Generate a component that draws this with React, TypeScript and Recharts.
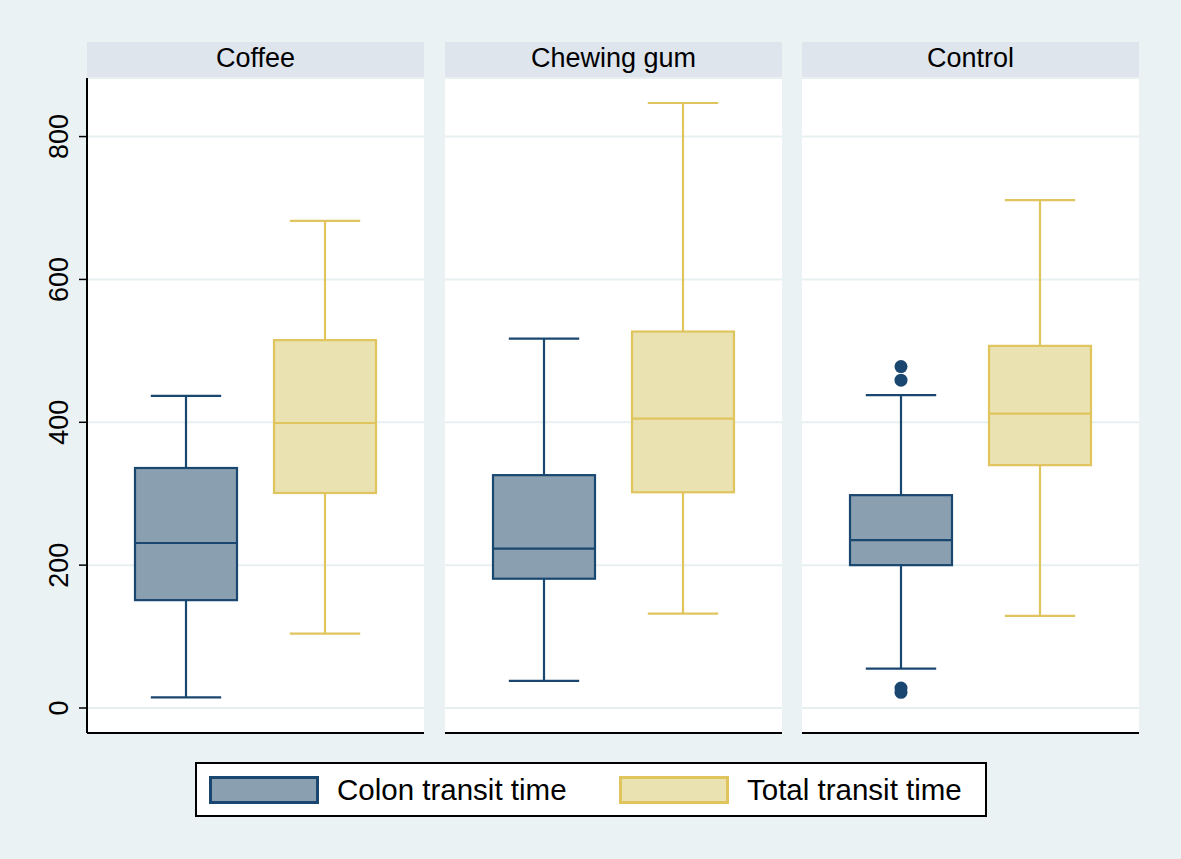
import React from 'react';
import { ComposedChart, Bar, XAxis, YAxis, CartesianGrid } from 'recharts';

const categories = ['Coffee', 'Chewing gum', 'Control'];
const colonMin = [15, 38, 55];
const colonQ1 = [151, 181, 200];
const colonMed = [231, 223, 235];
const colonQ3 = [336, 326, 298];
const colonMax = [437, 517, 438];
const colonOutliers: number[][] = [[], [], [478, 459, 28, 22]];
const totalMin = [104, 132, 129];
const totalQ1 = [301, 302, 340];
const totalMed = [399, 405, 412];
const totalQ3 = [515, 527, 507];
const totalMax = [682, 847, 711];
const totalOutliers: number[][] = [[], [], []];
const yTicks = [0, 200, 400, 600, 800];
const seriesNames = ['Colon transit time', 'Total transit time'];

const BG = '#EAF2F3';
const STRIP = '#DEE5ED';
const COLON_FILL = '#8AA0B0';
const COLON_STROKE = '#1A476F';
const TOTAL_FILL = '#EAE2B0';
const TOTAL_STROKE = '#E0C45E';
const FONT = '"Liberation Sans", Arial, Helvetica, sans-serif';

const rows = categories.map((c, i) => ({
  name: c,
  colon: { min: colonMin[i], q1: colonQ1[i], med: colonMed[i], q3: colonQ3[i], max: colonMax[i], out: colonOutliers[i] },
  total: { min: totalMin[i], q1: totalQ1[i], med: totalMed[i], q3: totalQ3[i], max: totalMax[i], out: totalOutliers[i] },
}));

const makeBoxShape = (key: 'colon' | 'total', fill: string, stroke: string) => (props: any) => {
  const { x, y, width, height, payload } = props;
  const s = payload[key];
  const py = (v: number) => y + (height * (s.max - v)) / (s.max - s.min);
  const cx = x + width / 2;
  const capHalf = width * 0.345;
  const sw = 2.2;
  return (
    <g>
      <line x1={cx} x2={cx} y1={py(s.max)} y2={py(s.q3)} stroke={stroke} strokeWidth={sw} />
      <line x1={cx} x2={cx} y1={py(s.q1)} y2={py(s.min)} stroke={stroke} strokeWidth={sw} />
      <line x1={cx - capHalf} x2={cx + capHalf} y1={py(s.max)} y2={py(s.max)} stroke={stroke} strokeWidth={sw} />
      <line x1={cx - capHalf} x2={cx + capHalf} y1={py(s.min)} y2={py(s.min)} stroke={stroke} strokeWidth={sw} />
      <rect x={x} y={py(s.q3)} width={width} height={py(s.q1) - py(s.q3)} fill={fill} stroke={stroke} strokeWidth={sw} />
      <line x1={x} x2={x + width} y1={py(s.med)} y2={py(s.med)} stroke={stroke} strokeWidth={sw} />
      {s.out.map((o: number, j: number) => (
        <circle key={j} cx={cx} cy={py(o)} r={6.5} fill={stroke} />
      ))}
    </g>
  );
};

const colonShape = makeBoxShape('colon', COLON_FILL, COLON_STROKE);
const totalShape = makeBoxShape('total', TOTAL_FILL, TOTAL_STROKE);

const YTick = (props: any) => {
  const { x, y, payload } = props;
  return (
    <text
      transform={`translate(${x - 9},${y}) rotate(-90)`}
      textAnchor="middle"
      fontSize={27}
      fontFamily={FONT}
      fill="#000"
    >
      {payload.value}
    </text>
  );
};

const Panel = ({ index, left, width, withAxis }: { index: number; left: number; width: number; withAxis: boolean }) => {
  const data = [rows[index]];
  return (
    <div style={{ position: 'absolute', left, top: 0 }}>
      <ComposedChart
        width={width}
        height={741}
        data={data}
        margin={{ top: 78, right: 0, bottom: 7, left: 0 }}
        barGap={37}
        barCategoryGap={0}
      >
        <CartesianGrid vertical={false} horizontal stroke="#E6F0F1" strokeWidth={2} fill="#FFFFFF" />
        <XAxis dataKey="name" tick={false} tickLine={false} height={1} axisLine={{ stroke: '#000', strokeWidth: 2 }} />
        <YAxis
          domain={[-35, 882]}
          ticks={yTicks}
          type="number"
          allowDataOverflow
          hide={!withAxis}
          width={87}
          tickSize={8}
          tick={<YTick />}
          tickLine={{ stroke: '#000', strokeWidth: 1.5 }}
          axisLine={{ stroke: '#000', strokeWidth: 2 }}
        />
        <Bar
          dataKey={(d: any) => [d.colon.min, d.colon.max]}
          name={seriesNames[0]}
          barSize={102}
          shape={colonShape}
          isAnimationActive={false}
        />
        <Bar
          dataKey={(d: any) => [d.total.min, d.total.max]}
          name={seriesNames[1]}
          barSize={102}
          shape={totalShape}
          isAnimationActive={false}
        />
      </ComposedChart>
    </div>
  );
};

const panels = [
  { left: 0, width: 424, strip: 87, stripW: 337, axis: true },
  { left: 445, width: 337, strip: 445, stripW: 337, axis: false },
  { left: 802, width: 337, strip: 802, stripW: 337, axis: false },
];

export default function App() {
  return (
    <div style={{ position: 'absolute', left: 0, top: 0, width: 1181, height: 859, background: BG, fontFamily: FONT, overflow: 'hidden' }}>
      {panels.map((p, i) => (
        <div
          key={'s' + i}
          style={{
            position: 'absolute',
            left: p.strip,
            top: 42,
            width: p.stripW,
            height: 33,
            background: STRIP,
            display: 'flex',
            alignItems: 'center',
            justifyContent: 'center',
            fontSize: 27,
            color: '#000',
          }}
        >
          {categories[i]}
        </div>
      ))}
      {panels.map((p, i) => (
        <div key={'f' + i} style={{ position: 'absolute', left: p.strip, top: 75, width: p.stripW, height: 3, background: STRIP }} />
      ))}
      {panels.map((p, i) => (
        <Panel key={i} index={i} left={p.left} width={p.width} withAxis={p.axis} />
      ))}
      <div
        style={{
          position: 'absolute',
          left: 195,
          top: 762,
          width: 792,
          height: 55,
          boxSizing: 'border-box',
          border: '2px solid #000',
          background: '#FFFFFF',
        }}
      >
        <div style={{ position: 'absolute', left: 12, top: 12, width: 110, height: 28, boxSizing: 'border-box', background: COLON_FILL, border: `3px solid ${COLON_STROKE}` }} />
        <div style={{ position: 'absolute', left: 140, top: 8, fontSize: 29.5, lineHeight: '36px', color: '#000' }}>{seriesNames[0]}</div>
        <div style={{ position: 'absolute', left: 422, top: 12, width: 110, height: 28, boxSizing: 'border-box', background: TOTAL_FILL, border: `3px solid ${TOTAL_STROKE}` }} />
        <div style={{ position: 'absolute', left: 550, top: 8, fontSize: 29.5, lineHeight: '36px', color: '#000' }}>{seriesNames[1]}</div>
      </div>
    </div>
  );
}
